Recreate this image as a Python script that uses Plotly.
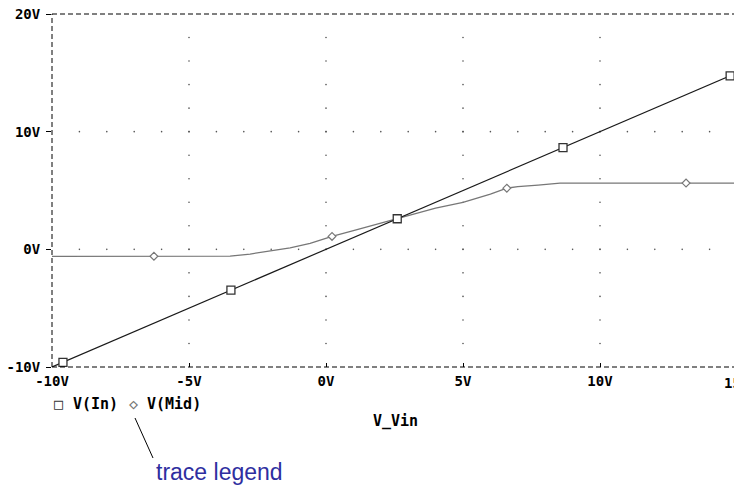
import numpy as np
import plotly.graph_objects as go

# ---- data ----
vin = [-10, 15]
v_in = [-10, 15]
mid_x = [-10, -3.5, -2.77, -2.04, -1.31, -0.58, 0.22, 1, 2, 2.6, 3, 4, 5, 6, 6.6, 7, 7.74, 8.54, 10, 12, 15]
mid_y = [-0.6, -0.58, -0.4, -0.14, 0.13, 0.5, 1.1, 1.6, 2.25, 2.63, 2.9, 3.5, 4.0, 4.7, 5.2, 5.33, 5.46, 5.63, 5.63, 5.63, 5.63]
in_marker_x = [-9.6, -3.47, 2.6, 8.65, 14.75]
mid_marker_x = [-6.28, 0.22, 6.6, 13.14]

x_ticks = [-10, -5, 0, 5, 10]
x_ticklabels = ["-10V", "-5V", "0V", "5V", "10V"]
x_last_label = "15V"
y_ticks = [-10, 0, 10, 20]
y_ticklabels = ["-10V", "0V", "10V", "20V"]
series_names = ["V(In)", "V(Mid)"]

XMIN, XMAX = -10, -10 + 682 / 27.4
YMIN, YMAX = -10, 20

MONO = "DejaVu Sans Mono"
FS = 14
FS2 = 15
IN_COL = "#1a1a1a"
MID_COL = "#777777"

fig = go.Figure()

# dotted grid (at major lines, dots on minor divisions)
gx_row = np.arange(-9, 15, 1)
gy_rows = [0, 10]
gy_col = np.arange(-8, 20, 2)
gx_cols = [-5, 0, 5, 10]
dots_x = [x for y in gy_rows for x in gx_row] + [x for x in gx_cols for y in gy_col]
dots_y = [y for y in gy_rows for x in gx_row] + [y for x in gx_cols for y in gy_col]
fig.add_trace(go.Scatter(x=dots_x, y=dots_y, mode="markers",
                         marker=dict(size=1.6, color="#555555"),
                         hoverinfo="skip", showlegend=False))

# V(Mid)
fig.add_trace(go.Scatter(x=mid_x, y=mid_y, mode="lines", name=series_names[1],
                         line=dict(color=MID_COL, width=1.3), showlegend=False))
fig.add_trace(go.Scatter(x=mid_marker_x, y=np.interp(mid_marker_x, mid_x, mid_y), mode="markers",
                         marker=dict(symbol="diamond", size=6, color="white",
                                     line=dict(color=MID_COL, width=1.2)),
                         showlegend=False))
# V(In)
fig.add_trace(go.Scatter(x=vin, y=v_in, mode="lines", name=series_names[0],
                         line=dict(color=IN_COL, width=1.2), showlegend=False))
fig.add_trace(go.Scatter(x=in_marker_x, y=np.interp(in_marker_x, vin, v_in), mode="markers",
                         marker=dict(symbol="square", size=8, color="white",
                                     line=dict(color="#333333", width=1.3)),
                         showlegend=False))

dash = "5px,3px"
fig.add_shape(type="line", xref="x domain", yref="y domain", x0=0, x1=1, y0=1, y1=1,
              line=dict(color="black", width=1, dash=dash))
fig.add_shape(type="line", xref="x domain", yref="y domain", x0=0, x1=1, y0=0, y1=0,
              line=dict(color="black", width=1, dash=dash))
fig.add_shape(type="line", xref="x domain", yref="y domain", x0=0, x1=0, y0=0, y1=1,
              line=dict(color="black", width=1, dash=dash))

def px(xp):
    return (xp - 52) / 682

def py(yp):
    return (367 - yp) / 353

# leader line for trace legend
fig.add_shape(type="line", xref="paper", yref="paper",
              x0=px(135), y0=py(418), x1=px(153), y1=py(458),
              line=dict(color="black", width=1))

bold = lambda size, color="black": dict(family=MONO, size=size, color=color, weight="bold")

fig.add_annotation(xref="paper", yref="paper", x=px(737), y=py(383), text=x_last_label,
                   showarrow=False, xanchor="center", yanchor="middle", font=bold(FS))
fig.add_annotation(xref="paper", yref="paper", x=px(395), y=py(421), text="V_Vin", showarrow=False,
                   xanchor="center", yanchor="middle", font=bold(FS2))
# legend pieces
fig.add_annotation(xref="paper", yref="paper", x=px(58.5), y=py(404), text="□",
                   showarrow=False, xanchor="center", yanchor="middle", font=bold(FS2, "#333333"))
fig.add_annotation(xref="paper", yref="paper", x=px(71), y=py(404), text=series_names[0],
                   showarrow=False, xanchor="left", yanchor="middle", font=bold(FS2))
fig.add_annotation(xref="paper", yref="paper", x=px(133.5), y=py(404), text="◇",
                   showarrow=False, xanchor="center", yanchor="middle", font=bold(FS2, MID_COL))
fig.add_annotation(xref="paper", yref="paper", x=px(145), y=py(404), text=series_names[1],
                   showarrow=False, xanchor="left", yanchor="middle", font=bold(FS2))
fig.add_annotation(xref="paper", yref="paper", x=px(154), y=py(472), text="trace legend",
                   showarrow=False, xanchor="left", yanchor="middle",
                   font=dict(family="Liberation Sans, Arial", size=23, color="#2e2ea0"))

fig.update_xaxes(range=[XMIN, XMAX], tickvals=x_ticks, ticktext=x_ticklabels,
                 ticks="inside", ticklen=4, tickcolor="black", tickwidth=1,
                 ticklabelstandoff=4,
                 showgrid=False, zeroline=False, showline=False,
                 tickfont=bold(FS))
fig.update_yaxes(range=[YMIN, YMAX], tickvals=y_ticks, ticktext=y_ticklabels,
                 ticks="outside", ticklen=5, tickcolor="black", tickwidth=1,
                 ticklabelstandoff=3,
                 showgrid=False, zeroline=False, showline=False,
                 tickfont=bold(FS))

fig.update_layout(width=734, height=485,
                  margin=dict(l=52, r=0, t=14, b=118, autoexpand=False),
                  plot_bgcolor="white", paper_bgcolor="white", showlegend=False)

fig.write_html("out.html", config={"displayModeBar": False},
               post_script="document.body.style.margin='0';document.body.style.overflow='hidden';")
